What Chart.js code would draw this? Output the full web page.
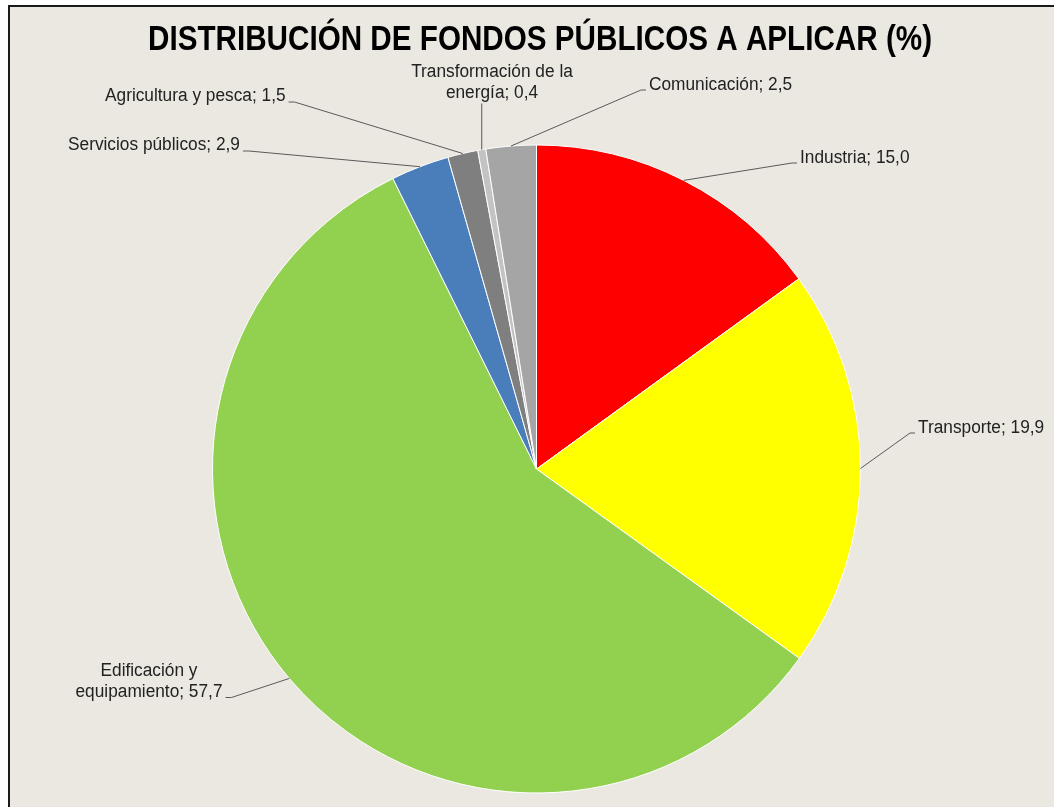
<!DOCTYPE html>
<html>
<head>
<meta charset="utf-8">
<script src="https://cdn.jsdelivr.net/npm/chart.js@4/dist/chart.umd.min.js"></script>
<style>
  html, body { margin: 0; padding: 0; background: #ffffff; }
  canvas { display: block; }
</style>
</head>
<body>
<canvas id="c" width="1054" height="807"></canvas>
<script>
// ---- Data ----
const chartTitle = 'DISTRIBUCIÓN DE FONDOS PÚBLICOS A APLICAR (%)';
const categories = ['Industria', 'Transporte', 'Edificación y equipamiento', 'Servicios públicos',
                    'Agricultura y pesca', 'Transformación de la energía', 'Comunicación'];
const values = [15.0, 19.9, 57.7, 2.9, 1.5, 0.4, 2.5];
const sliceColors = ['#ff0000', '#ffff00', '#92d050', '#4a7ebb', '#7f7f7f', '#c3c3c3', '#a5a5a5'];

// ---- Label layout (text anchor, alignment, wrap width) ----
const labelLayout = [
  { x: 800, y: 163, align: 'left',   wrap: 400 },
  { x: 918, y: 433, align: 'left',   wrap: 400 },
  { x: 149, y: 676, align: 'center', wrap: 155 },
  { x: 68,  y: 150, align: 'left',   wrap: 400 },
  { x: 105, y: 101, align: 'left',   wrap: 400 },
  { x: 492, y: 77,  align: 'center', wrap: 170 },
  { x: 649, y: 90,  align: 'left',   wrap: 400 }
];

const LABEL_FONT = '18px "Liberation Sans", Arial, sans-serif';
const LABEL_SX = 0.96;
const LINE_H = 20.5;

function fmt(v) { return v.toFixed(1).replace('.', ','); }

function wrapText(ctx, text, maxW) {
  const words = text.split(' ');
  const lines = [];
  let cur = '';
  for (const w of words) {
    const t = cur ? cur + ' ' + w : w;
    if (cur && ctx.measureText(t).width * LABEL_SX > maxW) { lines.push(cur); cur = w; }
    else cur = t;
  }
  if (cur) lines.push(cur);
  return lines;
}

function drawScaled(ctx, text, x, y, align, sx) {
  ctx.save();
  ctx.translate(x, y);
  ctx.scale(sx, 1);
  ctx.textAlign = align;
  ctx.fillText(text, 0, 0);
  ctx.restore();
}

const framePlugin = {
  id: 'frame',
  beforeDraw(chart) {
    const ctx = chart.ctx;
    const W = chart.width, H = chart.height;
    ctx.save();
    ctx.fillStyle = '#ffffff';
    ctx.fillRect(0, 0, W, H);
    ctx.fillStyle = '#1a1a1a';
    ctx.fillRect(8, 5, W - 8, H - 5);
    ctx.fillStyle = '#ebe8e1';
    ctx.fillRect(10, 7, W - 10, H - 7);
    // title
    ctx.fillStyle = '#000000';
    ctx.font = 'bold 35px "Liberation Sans", Arial, sans-serif';
    ctx.textBaseline = 'alphabetic';
    const tw = ctx.measureText(chartTitle).width;
    const sx = 784 / tw;
    drawScaled(ctx, chartTitle, 540, 50, 'center', sx);
    ctx.restore();
  }
};

const labelPlugin = {
  id: 'pieLabels',
  afterDatasetsDraw(chart) {
    const ctx = chart.ctx;
    const meta = chart.getDatasetMeta(0);
    ctx.save();
    ctx.font = LABEL_FONT;
    ctx.textBaseline = 'alphabetic';
    meta.data.forEach((arc, i) => {
      const p = arc.getProps(['x', 'y', 'startAngle', 'endAngle', 'outerRadius'], true);
      const mid = (p.startAngle + p.endAngle) / 2;
      const ex = p.x + p.outerRadius * Math.cos(mid);
      const ey = p.y + p.outerRadius * Math.sin(mid);
      const L = labelLayout[i];
      const text = categories[i] + '; ' + fmt(values[i]);
      const lines = wrapText(ctx, text, L.wrap);
      ctx.fillStyle = '#222222';
      lines.forEach((ln, k) => drawScaled(ctx, ln, L.x, L.y + k * LINE_H, L.align, LABEL_SX));
      // leader line
      const lastY = L.y + (lines.length - 1) * LINE_H;
      const lastW = ctx.measureText(lines[lines.length - 1]).width * LABEL_SX;
      let ax, ay, bx, by;
      if (L.align === 'center' && lines.length > 1 && Math.abs(ex - L.x) < 40) {
        ax = ex; ay = lastY + 6; bx = ex; by = ay;
      } else if (ex > L.x) {
        const right = L.align === 'center' ? L.x + lastW / 2 : L.x + lastW;
        ax = right + 3; ay = lastY + 1; bx = ax + 6; by = ay;
      } else {
        ax = L.x - 3; ay = lastY; bx = ax - 5; by = ay;
      }
      ctx.strokeStyle = '#5a5a5a';
      ctx.lineWidth = 1;
      ctx.beginPath();
      ctx.moveTo(ax, ay);
      ctx.lineTo(bx, by);
      ctx.lineTo(ex, ey);
      ctx.stroke();
    });
    ctx.restore();
  }
};

new Chart(document.getElementById('c'), {
  type: 'pie',
  data: {
    labels: categories,
    datasets: [{
      data: values,
      backgroundColor: sliceColors,
      borderColor: '#ffffff',
      borderWidth: 1,
      hoverOffset: 0,
      offset: 0,
      radius: 324
    }]
  },
  options: {
    responsive: false,
    animation: false,
    devicePixelRatio: 1,
    layout: { padding: { top: 145, bottom: 14, left: 19, right: 0 } },
    plugins: {
      legend: { display: false },
      tooltip: { enabled: false },
      title: { display: false }
    }
  },
  plugins: [framePlugin, labelPlugin]
});
</script>
</body>
</html>
